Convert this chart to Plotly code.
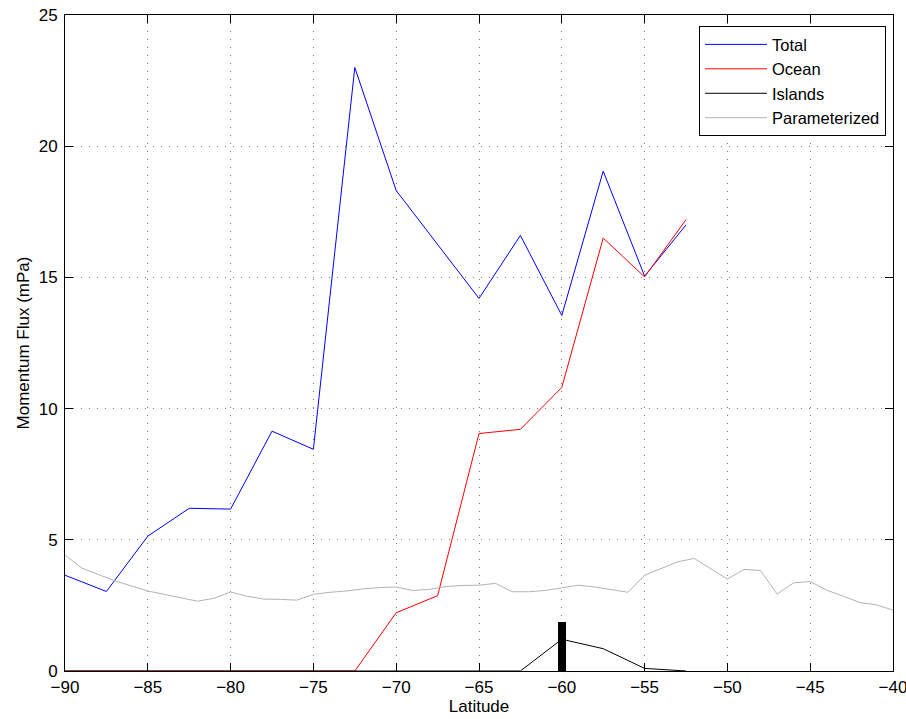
import plotly.graph_objects as go

# Coarse latitude grid (2.5 deg)
lat_coarse = [-90, -87.5, -85, -82.5, -80, -77.5, -75, -72.5, -70, -67.5,
              -65, -62.5, -60, -57.5, -55, -52.5]
total = [3.65, 3.03, 5.14, 6.2, 6.17, 9.14, 8.45, 23.0, 18.31, 16.25,
         14.2, 16.6, 13.55, 19.05, 15.05, 17.0]
ocean = [0, 0, 0, 0, 0, 0, 0, 0, 2.22, 2.87,
         9.05, 9.21, 10.81, 16.5, 15.02, 17.2]
islands = [0, 0, 0, 0, 0, 0, 0, 0, 0, 0,
           0, 0, 1.21, 0.85, 0.10, 0.0]

# Parameterized (1 deg grid)
lat_fine = list(range(-90, -39))
param = [4.42, 3.93, 3.68, 3.44, 3.24, 3.05, 2.92, 2.79, 2.66, 2.77,
         3.01, 2.85, 2.74, 2.73, 2.70, 2.92, 3.00, 3.05, 3.13, 3.18,
         3.20, 3.07, 3.11, 3.22, 3.26, 3.27, 3.34, 3.02, 3.02, 3.07,
         3.18, 3.27, 3.20, 3.10, 3.00, 3.65, 3.91, 4.16, 4.29, 3.91,
         3.50, 3.87, 3.83, 2.93, 3.36, 3.41, 3.08, 2.85, 2.61, 2.52,
         2.32]

# Island bar
bar_lat = [-60]
bar_val = [1.88]

x_ticks = [-90, -85, -80, -75, -70, -65, -60, -55, -50, -45, -40]
y_ticks = [0, 5, 10, 15, 20, 25]

fig = go.Figure()
fig.add_trace(go.Bar(x=bar_lat, y=bar_val, width=0.45, marker=dict(color="black", line=dict(width=0)),
                     showlegend=False, hoverinfo="skip"))
fig.add_trace(go.Scatter(x=lat_coarse, y=total, mode="lines", name="Total",
                         line=dict(color="#0000ff", width=1)))
fig.add_trace(go.Scatter(x=lat_coarse, y=ocean, mode="lines", name="Ocean",
                         line=dict(color="#ff0000", width=1)))
fig.add_trace(go.Scatter(x=lat_coarse, y=islands, mode="lines", name="Islands",
                         line=dict(color="#000000", width=1)))
fig.add_trace(go.Scatter(x=lat_fine, y=param, mode="lines", name="Parameterized",
                         line=dict(color="#b3b3b3", width=1)))

font = "Liberation Sans, Arial, Helvetica, sans-serif"
axis_common = dict(
    showline=True, linecolor="black", linewidth=1, mirror="ticks",
    ticks="inside", ticklen=8, tickcolor="black", tickwidth=1,
    showgrid=True, gridcolor="#7a7a7a", griddash="1px,7px", gridwidth=1,
    zeroline=False, tickfont=dict(size=17, color="black", family=font),
    automargin=False, ticklabeloverflow="allow",
)
fig.update_xaxes(range=[-90, -40], tickvals=x_ticks, ticklabelstandoff=1,
                 title=dict(text="Latitude", font=dict(size=17, color="black", family=font), standoff=2),
                 **axis_common)
fig.update_yaxes(range=[0, 25], tickvals=y_ticks, ticklabelstandoff=3,
                 title=dict(text="Momentum Flux (mPa)", font=dict(size=17, color="black", family=font), standoff=4),
                 **axis_common)

fig.update_layout(
    width=906, height=719,
    margin=dict(l=65, r=13, t=15, b=48),
    paper_bgcolor="white", plot_bgcolor="white",
    font=dict(family=font, color="black"),
    showlegend=True,
    legend=dict(x=0.9915, y=0.983, xanchor="right", yanchor="top",
                bgcolor="white", bordercolor="black", borderwidth=1,
                font=dict(size=16.5, color="black", family=font),
                itemwidth=62, tracegroupgap=0, traceorder="normal"),
    bargap=0,
)

fig.write_html("out.html",
               config={"displayModeBar": False},
               post_script="document.body.style.margin='0';document.body.style.overflow='hidden';")
